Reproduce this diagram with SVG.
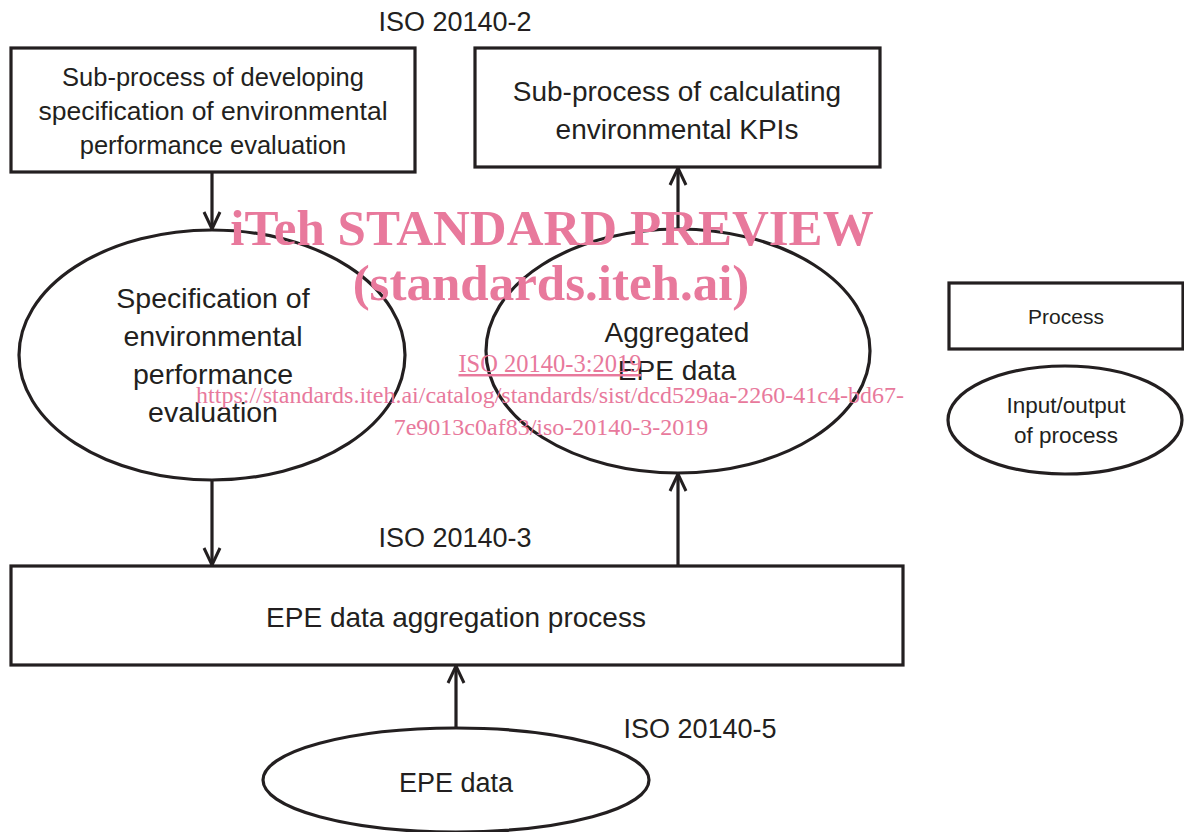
<svg xmlns="http://www.w3.org/2000/svg" width="1184" height="832" viewBox="0 0 1184 832">
<style>
.shape{fill:#fff;stroke:#231f20;stroke-width:3.2}
.t{font-family:"Liberation Sans",Arial,sans-serif;fill:#231f20;text-anchor:middle}
.conn{fill:none;stroke:#231f20;stroke-width:3.2}
.wm{font-family:"Liberation Serif","Times New Roman",serif;fill:#e8799c;text-anchor:middle}
</style>
<defs>
<marker id="arr" viewBox="0 0 20 20" refX="18" refY="10" markerWidth="20" markerHeight="20" markerUnits="userSpaceOnUse" orient="auto">
<path d="M1,2 L18,10 L1,18" fill="none" stroke="#231f20" stroke-width="3"/>
</marker>
</defs>
<rect width="1184" height="832" fill="#fff"/>

<g id="label-iso2"><text class="t" x="455" y="31" font-size="27">ISO 20140-2</text></g>

<g id="subprocess-spec">
<rect class="shape" x="11" y="48" width="404" height="124"/>
<text class="t" x="213" y="86" font-size="25.5">Sub-process of developing</text>
<text class="t" x="213" y="120" font-size="26.5">specification of environmental</text>
<text class="t" x="213" y="154" font-size="25.5">performance evaluation</text>
</g>

<g id="subprocess-kpi">
<rect class="shape" x="475" y="48" width="405" height="119"/>
<text class="t" x="677" y="101" font-size="28">Sub-process of calculating</text>
<text class="t" x="677" y="139" font-size="28">environmental KPIs</text>
</g>

<g id="spec-data">
<ellipse class="shape" cx="212" cy="355" rx="193" ry="125"/>
<text class="t" x="213" y="308" font-size="28.5">Specification of</text>
<text class="t" x="213" y="346" font-size="28.5">environmental</text>
<text class="t" x="213" y="384" font-size="28.5">performance</text>
<text class="t" x="213" y="422" font-size="28.5">evaluation</text>
</g>

<g id="aggregated-data">
<ellipse class="shape" cx="678" cy="351" rx="192" ry="122"/>
<text class="t" x="677" y="342" font-size="28">Aggregated</text>
<text class="t" x="677" y="380" font-size="28">EPE data</text>
</g>

<g id="label-iso3"><text class="t" x="455" y="547" font-size="27">ISO 20140-3</text></g>

<g id="aggregation-process">
<rect class="shape" x="11" y="566" width="892" height="99"/>
<text class="t" x="456" y="627" font-size="28">EPE data aggregation process</text>
</g>

<g id="label-iso5"><text class="t" x="700" y="738" font-size="27">ISO 20140-5</text></g>

<g id="epe-data">
<ellipse class="shape" cx="456" cy="780" rx="193" ry="52"/>
<text class="t" x="456" y="792" font-size="27">EPE data</text>
</g>

<g id="legend-process">
<rect class="shape" x="949" y="283" width="234" height="66"/>
<text class="t" x="1066" y="324" font-size="21">Process</text>
</g>

<g id="legend-io">
<ellipse class="shape" cx="1065" cy="420" rx="117" ry="54"/>
<text class="t" x="1066" y="413" font-size="22.5">Input/output</text>
<text class="t" x="1066" y="443" font-size="22.5">of process</text>
</g>

<g id="connectors">
<line class="conn" x1="212" y1="172" x2="212" y2="229" marker-end="url(#arr)"/>
<line class="conn" x1="678" y1="229" x2="678" y2="168" marker-end="url(#arr)"/>
<line class="conn" x1="212" y1="480" x2="212" y2="565" marker-end="url(#arr)"/>
<line class="conn" x1="678" y1="566" x2="678" y2="474" marker-end="url(#arr)"/>
<line class="conn" x1="456" y1="728" x2="456" y2="666" marker-end="url(#arr)"/>
</g>

<g id="watermark">
<text class="wm" x="552" y="245" font-size="51" font-weight="bold">iTeh STANDARD PREVIEW</text>
<text class="wm" x="551" y="300" font-size="51" font-weight="bold">(standards.iteh.ai)</text>
<text class="wm" x="550" y="372" font-size="24.5" text-decoration="underline">ISO 20140-3:2019</text>
<text class="wm" x="550" y="403" font-size="24">https://standards.iteh.ai/catalog/standards/sist/dcd529aa-2260-41c4-bd67-</text>
<text class="wm" x="551" y="435" font-size="24">7e9013c0af83/iso-20140-3-2019</text>
</g>
</svg>
